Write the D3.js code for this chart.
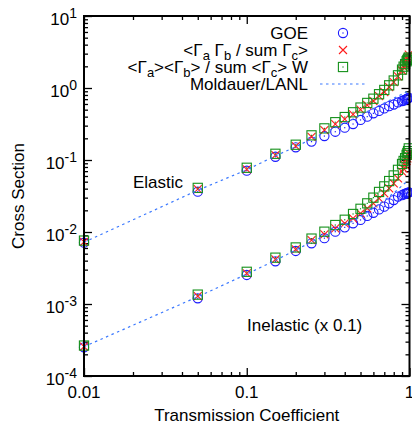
<!DOCTYPE html>
<html>
<head>
<meta charset="utf-8">
<script src="https://cdn.jsdelivr.net/npm/d3@7"></script>
<style>
  body { margin: 0; background: #ffffff; }
  text { font-family: "Liberation Sans", Arial, sans-serif; }
</style>
</head>
<body>
<div id="container"></div>
<script>
let w = 412;
let h = 425;

// transmission coefficients
let tValues = [0.01, 0.05, 0.1, 0.15, 0.2, 0.25, 0.3, 0.35, 0.4, 0.45, 0.5, 0.55, 0.6, 0.65, 0.7, 0.75, 0.8, 0.85, 0.9, 0.92, 0.94, 0.96, 0.97, 0.98, 0.99];

// elastic
let elGOE = [0.0071, 0.0363, 0.071, 0.111, 0.150, 0.18, 0.215, 0.247, 0.281, 0.316, 0.36, 0.40, 0.445, 0.48, 0.52, 0.56, 0.59, 0.63, 0.66, 0.67, 0.69, 0.70, 0.71, 0.72, 0.73];
let elRatio = [0.0073, 0.0395, 0.0743, 0.117, 0.156, 0.21, 0.26, 0.315, 0.37, 0.43, 0.50, 0.58, 0.66, 0.77, 0.88, 1.03, 1.21, 1.45, 1.75, 1.95, 2.15, 2.4, 2.55, 2.7, 2.9];
let elAvgW = [0.0076, 0.041, 0.078, 0.122, 0.163, 0.22, 0.275, 0.335, 0.395, 0.46, 0.535, 0.62, 0.71, 0.82, 0.94, 1.09, 1.27, 1.5, 1.8, 1.98, 2.15, 2.35, 2.45, 2.55, 2.65];
let elMold = [0.0072, 0.038, 0.073, 0.114, 0.153, 0.195, 0.24, 0.28, 0.325, 0.37, 0.42, 0.47, 0.52, 0.57, 0.62, 0.67, 0.72, 0.77, 0.82, 0.84, 0.86, 0.88, 0.89, 0.9, 0.91];

// inelastic (x 0.1)
let inGOE = [2.5e-4, 1.2e-3, 2.53e-3, 3.92e-3, 5.45e-3, 6.97e-3, 8.2e-3, 0.0101, 0.0116, 0.0132, 0.0147, 0.0167, 0.0185, 0.0206, 0.0225, 0.025, 0.0278, 0.031, 0.0325, 0.0333, 0.034, 0.0345, 0.035, 0.0352, 0.0355];
let inRatio = [2.55e-4, 1.29e-3, 2.67e-3, 4.18e-3, 5.75e-3, 7.7e-3, 9.3e-3, 0.01125, 0.0132, 0.0155, 0.0182, 0.0213, 0.025, 0.0294, 0.0345, 0.0404, 0.0475, 0.0557, 0.069, 0.076, 0.085, 0.097, 0.105, 0.115, 0.124];
let inAvgW = [2.65e-4, 1.35e-3, 2.8e-3, 4.4e-3, 6.1e-3, 8.1e-3, 0.0101, 0.0125, 0.0148, 0.0178, 0.021, 0.025, 0.030, 0.036, 0.043, 0.051, 0.061, 0.073, 0.088, 0.097, 0.106, 0.118, 0.125, 0.133, 0.145];
let inMold = [2.55e-4, 1.26e-3, 2.6e-3, 4.05e-3, 5.6e-3, 7.3e-3, 8.8e-3, 0.0107, 0.0124, 0.0143, 0.0164, 0.0188, 0.0215, 0.0245, 0.0275, 0.031, 0.035, 0.039, 0.044, 0.046, 0.048, 0.05, 0.051, 0.052, 0.053];

let xMajor = [0.01, 0.1, 1];
let yMajor = [10, 1, 0.1, 0.01, 0.001, 0.0001];
let yExp = ["1", "0", "-1", "-2", "-3", "-4"];

let padL = 84, padR = 409.5, padT = 16, padB = 376;

let viz = d3.select("#container")
  .append("svg")
    .attr("width", w)
    .attr("height", h)
    .style("background-color", "white");

let xScale = d3.scaleLog().domain([0.01, 1]).range([padL, padR]);
let yScale = d3.scaleLog().domain([1e-4, 10]).range([padB, padT]);

// minor ticks 2..9 in each decade
function minors(lo, hi){
  let out = [];
  for (let d = lo; d < hi * 0.999; d *= 10){
    for (let k = 2; k <= 9; k++) out.push(d * k);
  }
  return out;
}
let xMinor = minors(0.01, 1);
let yMinor = minors(1e-4, 10);

function tickAxis(axis, values, size, tx, ty){
  let g = viz.append("g")
    .attr("transform", "translate(" + tx + "," + ty + ")")
    .call(axis.tickValues(values).tickSize(size).tickFormat(""));
  g.select(".domain").remove();
  g.selectAll("line").attr("stroke", "#000").attr("stroke-width", 1.3);
  return g;
}

tickAxis(d3.axisBottom(xScale), xMajor, -8, 0, padB);
tickAxis(d3.axisBottom(xScale), xMinor, -4, 0, padB);
tickAxis(d3.axisTop(xScale), xMajor, -8, 0, padT);
tickAxis(d3.axisTop(xScale), xMinor, -4, 0, padT);
tickAxis(d3.axisLeft(yScale), yMajor, -8, padL, 0);
tickAxis(d3.axisLeft(yScale), yMinor, -4, padL, 0);
tickAxis(d3.axisRight(yScale), yMajor, -8, padR, 0);
tickAxis(d3.axisRight(yScale), yMinor, -4, padR, 0);

// tick labels
viz.selectAll(".xlab").data(xMajor).enter()
  .append("text")
    .attr("x", function(d){ return xScale(d); })
    .attr("y", 398)
    .attr("text-anchor", "middle")
    .attr("font-size", 17)
    .text(function(d){ return String(d); });

let ylabs = viz.selectAll(".ylab").data(yMajor).enter()
  .append("text")
    .attr("x", 77)
    .attr("y", function(d){ return yScale(d) + 9; })
    .attr("text-anchor", "end")
    .attr("font-size", 17);
ylabs.append("tspan").text("10");
ylabs.append("tspan")
  .attr("dy", -7)
  .attr("font-size", 14)
  .text(function(d, i){ return yExp[i]; });

// axis titles
viz.append("text")
  .attr("x", (padL + padR) / 2)
  .attr("y", 421)
  .attr("text-anchor", "middle")
  .attr("font-size", 17)
  .text("Transmission Coefficient");

viz.append("text")
  .attr("transform", "translate(24," + ((padT + padB) / 2) + ") rotate(-90)")
  .attr("text-anchor", "middle")
  .attr("font-size", 17)
  .text("Cross Section");

viz.append("text").attr("x", 133).attr("y", 188).attr("font-size", 17).text("Elastic");
viz.append("text").attr("x", 247).attr("y", 331).attr("font-size", 17).text("Inelastic (x 0.1)");

// markers
let blue = "#1a1aff", red = "#ff1a1a", green = "#14901a", lineBlue = "#3a78ff";

function circles(vals){
  let g = viz.append("g");
  g.selectAll("circle").data(vals).enter().append("circle")
    .attr("cx", function(d, i){ return xScale(tValues[i]); })
    .attr("cy", function(d){ return yScale(d); })
    .attr("r", 4.6)
    .attr("fill", "none").attr("stroke", blue).attr("stroke-width", 1.1);
  g.selectAll("rect").data(vals).enter().append("rect")
    .attr("x", function(d, i){ return xScale(tValues[i]) - 0.6; })
    .attr("y", function(d){ return yScale(d) - 0.6; })
    .attr("width", 1.2).attr("height", 1.2).attr("fill", blue);
}
function crosses(vals){
  let g = viz.append("g");
  g.selectAll("path").data(vals).enter().append("path")
    .attr("d", function(d, i){
      let x = xScale(tValues[i]), y = yScale(d), s = 4;
      return "M" + (x - s) + "," + (y - s) + "L" + (x + s) + "," + (y + s) +
             "M" + (x - s) + "," + (y + s) + "L" + (x + s) + "," + (y - s);
    })
    .attr("fill", "none").attr("stroke", red).attr("stroke-width", 1.1);
}
function boxes(vals){
  let g = viz.append("g");
  g.selectAll(".bx").data(vals).enter().append("rect")
    .attr("x", function(d, i){ return xScale(tValues[i]) - 4.6; })
    .attr("y", function(d){ return yScale(d) - 4.6; })
    .attr("width", 9.2).attr("height", 9.2)
    .attr("fill", "none").attr("stroke", green).attr("stroke-width", 1.1);
  g.selectAll(".dot").data(vals).enter().append("rect")
    .attr("x", function(d, i){ return xScale(tValues[i]) - 0.6; })
    .attr("y", function(d){ return yScale(d) - 0.6; })
    .attr("width", 1.2).attr("height", 1.2).attr("fill", green);
}
let line = d3.line()
  .x(function(d, i){ return xScale(tValues[i]); })
  .y(function(d){ return yScale(d); });
function dotted(vals){
  viz.append("path").datum(vals)
    .attr("d", line)
    .attr("fill", "none").attr("stroke", lineBlue)
    .attr("stroke-width", 1.2).attr("stroke-dasharray", "2.5,3.5");
}

circles(elGOE); circles(inGOE);
crosses(elRatio); crosses(inRatio);
boxes(elAvgW); boxes(inAvgW);
dotted(elMold); dotted(inMold);

// legend
let legY = [33, 50, 67, 84];
let legX = 308;
function legText(y, parts){
  let t = viz.append("text").attr("x", legX).attr("y", y + 6).attr("text-anchor", "end").attr("font-size", 17);
  let low = false;
  parts.forEach(function(p){
    let ts = t.append("tspan").text(p.s);
    if (p.sub){
      ts.attr("dy", 4).attr("font-size", 13);
      low = true;
    } else if (low){
      ts.attr("dy", -4);
      low = false;
    }
  });
}
legText(legY[0], [{s: "GOE"}]);
legText(legY[1], [{s: "<\u0393"}, {s: "a", sub: true}, {s: " \u0393"}, {s: "b", sub: true}, {s: " / sum \u0393"}, {s: "c", sub: true}, {s: ">"}]);
legText(legY[2], [{s: "<\u0393"}, {s: "a", sub: true}, {s: "><\u0393"}, {s: "b", sub: true}, {s: "> / sum <\u0393"}, {s: "c", sub: true}, {s: "> W"}]);
legText(legY[3], [{s: "Moldauer/LANL"}]);

let sx = 343;
viz.append("circle").attr("cx", sx).attr("cy", legY[0]).attr("r", 4.6)
  .attr("fill", "none").attr("stroke", blue).attr("stroke-width", 1.1);
viz.append("rect").attr("x", sx - 0.6).attr("y", legY[0] - 0.6).attr("width", 1.2).attr("height", 1.2).attr("fill", blue);
viz.append("path")
  .attr("d", "M" + (sx - 4) + "," + (legY[1] - 4) + "L" + (sx + 4) + "," + (legY[1] + 4) + "M" + (sx - 4) + "," + (legY[1] + 4) + "L" + (sx + 4) + "," + (legY[1] - 4))
  .attr("stroke", red).attr("stroke-width", 1.1);
viz.append("rect").attr("x", sx - 4.6).attr("y", legY[2] - 4.6).attr("width", 9.2).attr("height", 9.2)
  .attr("fill", "none").attr("stroke", green).attr("stroke-width", 1.1);
viz.append("rect").attr("x", sx - 0.6).attr("y", legY[2] - 0.6).attr("width", 1.2).attr("height", 1.2).attr("fill", green);
viz.append("line").attr("x1", 320).attr("x2", 365).attr("y1", legY[3]).attr("y2", legY[3])
  .attr("stroke", lineBlue).attr("stroke-width", 1.2).attr("stroke-dasharray", "2.5,3.5");

// border
viz.append("rect")
  .attr("x", padL).attr("y", padT)
  .attr("width", padR - padL).attr("height", padB - padT)
  .attr("fill", "none").attr("stroke", "#000").attr("stroke-width", 2);
</script>
</body>
</html>
